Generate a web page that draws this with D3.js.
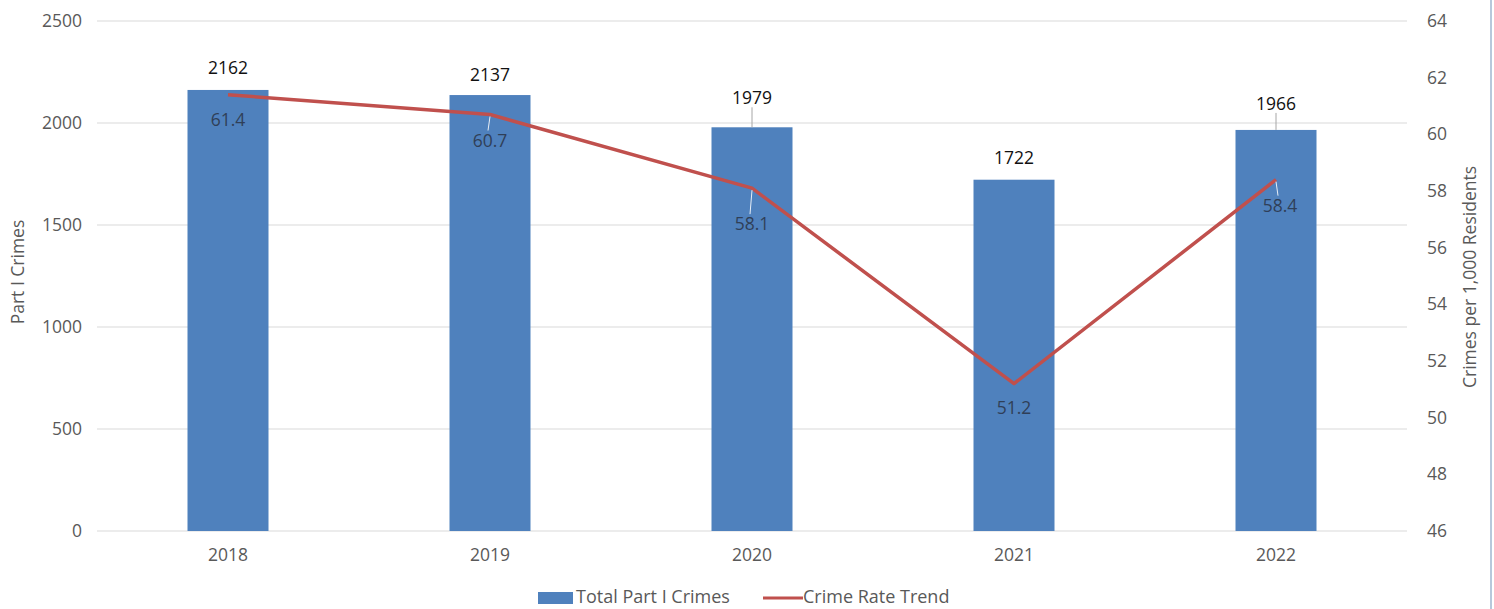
<!DOCTYPE html>
<html>
<head>
<meta charset="utf-8">
<script src="https://d3js.org/d3.v7.min.js"></script>
<style>
  body { margin: 0; background: #fff; }
  svg text { font-family: "Open Sans", sans-serif; }
</style>
</head>
<body>
<svg width="1494" height="609"></svg>
<script>
// data
var years = ["2018", "2019", "2020", "2021", "2022"];
var totalCrimes = [2162, 2137, 1979, 1722, 1966];
var crimeRate = [61.4, 60.7, 58.1, 51.2, 58.4];
var leftTicks = [0, 500, 1000, 1500, 2000, 2500];
var rightTicks = [46, 48, 50, 52, 54, 56, 58, 60, 62, 64];

// label nudges (px) as placed in the original chart
var barLabelDy = [-22, -20, -29, -22, -26];
var rateLabelDy = [25, 26, 36, 24, 26];
var rateLabelDx = [0, 0, 0, 0, 4];

var svg = d3.select("svg");
var plotLeft = 97, plotRight = 1407, plotTop = 21, plotBottom = 531;
var FONT = "17.5px";

var x = d3.scaleBand().domain(years).range([plotLeft, plotRight]);
var y = d3.scaleLinear().domain([0, 2500]).range([plotBottom, plotTop]);
var y2 = d3.scaleLinear().domain([46, 64]).range([plotBottom, plotTop]);
var barW = 81;

function cx(i) { return x(years[i]) + x.bandwidth() / 2; }

// right border
svg.append("line")
    .attr("x1", 1491).attr("x2", 1491).attr("y1", 0).attr("y2", 609)
    .style("stroke", "#9fb6cf").style("stroke-width", 1.5);

// gridlines
svg.append("g")
    .selectAll("line")
    .data(leftTicks)
    .enter().append("line")
    .attr("x1", plotLeft).attr("x2", plotRight)
    .attr("y1", function(d) { return y(d); })
    .attr("y2", function(d) { return y(d); })
    .style("stroke", "#d9d9d9")
    .style("stroke-width", 1);

// left axis
var gl = svg.append("g")
    .attr("transform", "translate(" + (plotLeft - 15) + ",0)")
    .call(d3.axisLeft(y).tickValues(leftTicks).tickFormat(d3.format("d")).tickSize(0).tickPadding(0));
gl.select(".domain").remove();
gl.selectAll("text")
    .style("font-size", FONT)
    .style("fill", "#595959")
    .style("font-family", "Open Sans");

// right axis
var gr = svg.append("g")
    .attr("transform", "translate(" + (plotRight + 20) + ",0)")
    .call(d3.axisRight(y2).tickValues(rightTicks).tickSize(0).tickPadding(0));
gr.select(".domain").remove();
gr.selectAll("text")
    .style("font-size", FONT)
    .style("fill", "#595959")
    .style("font-family", "Open Sans");

// x axis labels
var gx = svg.append("g")
    .attr("transform", "translate(0," + (plotBottom + 10) + ")")
    .call(d3.axisBottom(x).tickSize(0).tickPadding(8));
gx.select(".domain").remove();
gx.selectAll("text")
    .style("font-size", FONT)
    .style("fill", "#595959")
    .style("font-family", "Open Sans");

// axis titles
svg.append("text")
    .attr("transform", "translate(24,272) rotate(-90)")
    .attr("text-anchor", "middle")
    .style("font-size", FONT)
    .style("fill", "#595959")
    .text("Part I Crimes");

svg.append("text")
    .attr("transform", "translate(1476,277) rotate(-90)")
    .attr("text-anchor", "middle")
    .style("font-size", FONT)
    .style("fill", "#595959")
    .text("Crimes per 1,000 Residents");

// bars
svg.append("g")
    .selectAll("rect")
    .data(totalCrimes)
    .enter().append("rect")
    .attr("x", function(d, i) { return cx(i) - barW / 2; })
    .attr("width", barW)
    .attr("y", function(d) { return y(d); })
    .attr("height", function(d) { return plotBottom - y(d); })
    .style("fill", "#4f81bd");

// bar label leader lines (only where label sits far from bar)
svg.append("g")
    .selectAll("line")
    .data(totalCrimes)
    .enter().filter(function(d, i) { return barLabelDy[i] < -24; })
    .append("line")
    .attr("x1", function(d) { return cx(totalCrimes.indexOf(d)); })
    .attr("x2", function(d) { return cx(totalCrimes.indexOf(d)); })
    .attr("y1", function(d) { return y(d) + barLabelDy[totalCrimes.indexOf(d)] + 9; })
    .attr("y2", function(d) { return y(d); })
    .style("stroke", "#a6a6a6")
    .style("stroke-width", 1);

// bar labels
svg.append("g")
    .selectAll("text")
    .data(totalCrimes)
    .enter().append("text")
    .attr("x", function(d, i) { return cx(i); })
    .attr("y", function(d, i) { return y(d) + barLabelDy[i]; })
    .attr("dy", "0.35em")
    .attr("text-anchor", "middle")
    .style("font-size", FONT)
    .style("fill", "#111")
    .text(function(d) { return d; });

// trend line
var line = d3.line()
    .x(function(d, i) { return cx(i); })
    .y(function(d) { return y2(d); });

svg.append("path")
    .datum(crimeRate)
    .attr("d", line)
    .style("fill", "none")
    .style("stroke", "#c0504d")
    .style("stroke-width", 3.5)
    .style("stroke-linejoin", "round");

// rate label leader lines
svg.append("g")
    .selectAll("line")
    .data(crimeRate)
    .enter().filter(function(d, i) { return rateLabelDy[i] > 25; })
    .append("line")
    .attr("x1", function(d) { return cx(crimeRate.indexOf(d)); })
    .attr("x2", function(d) { var i = crimeRate.indexOf(d); return cx(i) + rateLabelDx[i] - 2; })
    .attr("y1", function(d) { return y2(d) + 2; })
    .attr("y2", function(d) { return y2(d) + rateLabelDy[crimeRate.indexOf(d)] - 10; })
    .style("stroke", "#e8eef6")
    .style("stroke-width", 1);

// rate labels
svg.append("g")
    .selectAll("text")
    .data(crimeRate)
    .enter().append("text")
    .attr("x", function(d, i) { return cx(i) + rateLabelDx[i]; })
    .attr("y", function(d, i) { return y2(d) + rateLabelDy[i]; })
    .attr("dy", "0.35em")
    .attr("text-anchor", "middle")
    .style("font-size", FONT)
    .style("fill", "#2f3f58")
    .text(function(d) { return d.toFixed(1); });

// legend
var lg = svg.append("g");
lg.append("rect")
    .attr("x", 538).attr("y", 592).attr("width", 35).attr("height", 12)
    .style("fill", "#4f81bd");
lg.append("text")
    .attr("x", 576).attr("y", 597).attr("dy", "0.35em")
    .style("font-size", "18px")
    .style("fill", "#595959")
    .text("Total Part I Crimes");
lg.append("line")
    .attr("x1", 763).attr("x2", 803).attr("y1", 598).attr("y2", 598)
    .style("stroke", "#c0504d").style("stroke-width", 3);
lg.append("text")
    .attr("x", 803).attr("y", 597).attr("dy", "0.35em")
    .style("font-size", "18px")
    .style("fill", "#595959")
    .text("Crime Rate Trend");
</script>
</body>
</html>
